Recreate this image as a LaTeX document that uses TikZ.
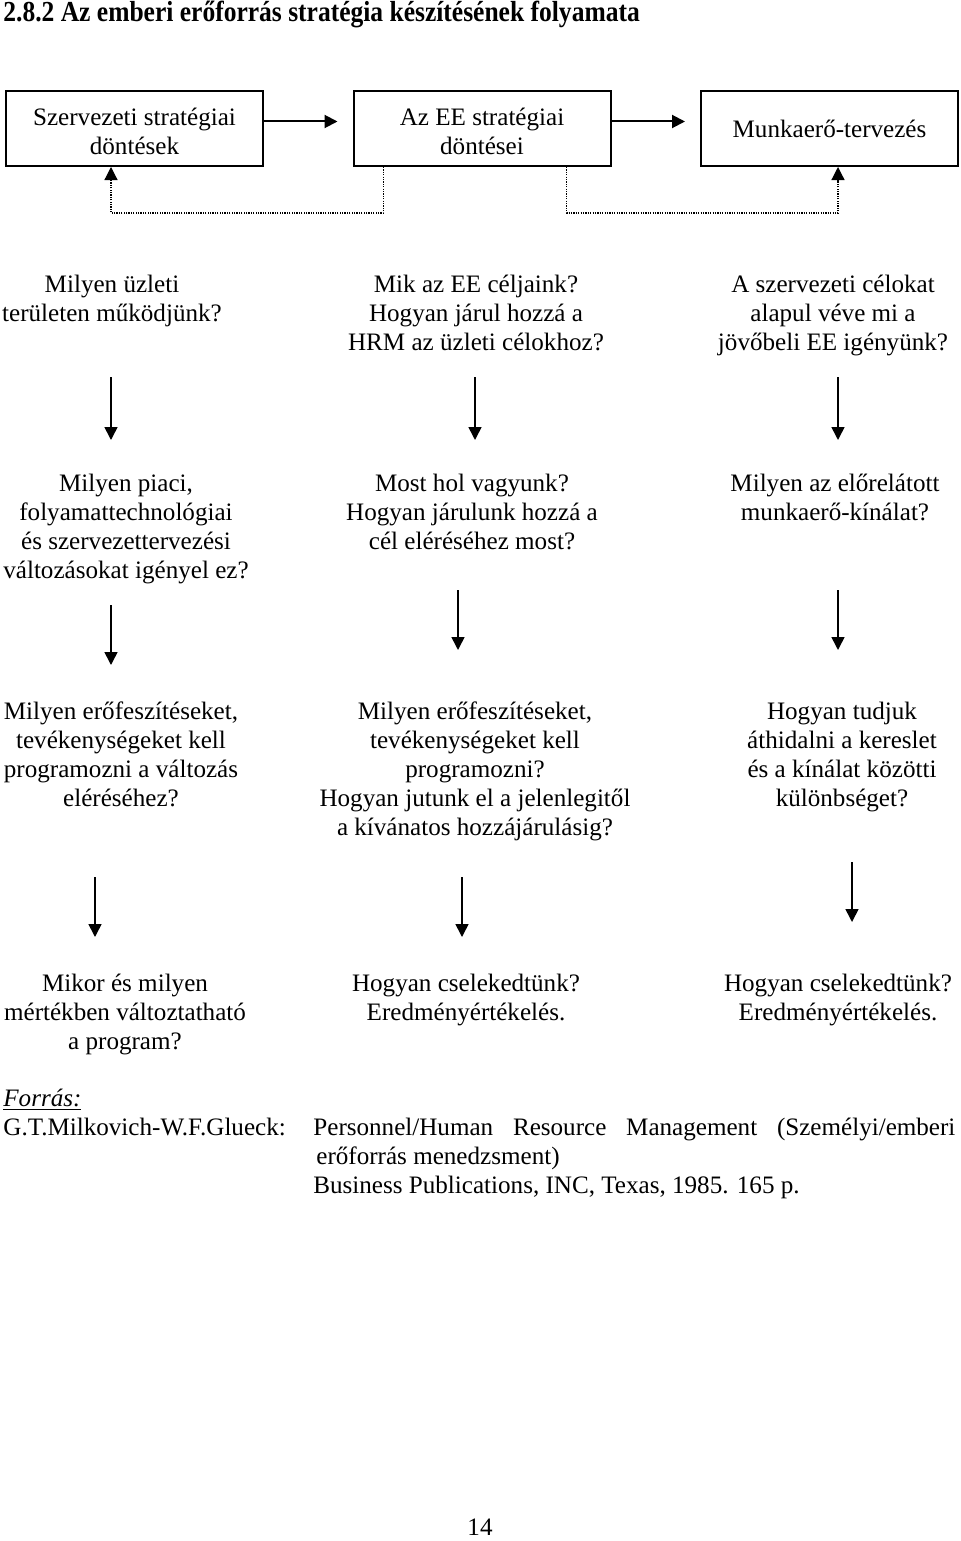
\documentclass[tikz,border=0pt]{standalone}
\usepackage{fontspec}
\setmainfont{Liberation Serif}
\newfontfamily\titlefont[FakeStretch=0.88]{Liberation Serif}
\usetikzlibrary{arrows.meta}

\begin{document}
\begin{tikzpicture}[x=0.5pt, y=-0.5pt, >={Triangle[length=6.5pt, width=6.5pt]}]
  \tikzstyle{txt}=[anchor=north, yshift=10.15pt, align=center, inner sep=0pt,
    font=\fontsize{12.55}{14.5}\selectfont,
    execute at begin node=\strut, execute at end node=\strut]
  \tikzstyle{line}=[anchor=base west, inner sep=0pt, font=\fontsize{12.55}{14.5}\selectfont]
  \tikzstyle{box}=[draw, line width=1pt, minimum width=128.5pt, minimum height=37.5pt,
    align=center, inner sep=0pt, font=\fontsize{12.55}{14.5}\selectfont]
  \tikzstyle{arr}=[->, line width=0.8pt]
  \tikzstyle{dots}=[->, line width=0.6pt, dash pattern=on 0.6pt off 0.6pt]

  \useasboundingbox (0,0) rectangle (960,1541);

  \node[line, font=\fontsize{14.5}{17}\titlefont\bfseries] (title) at (3,22)
    {2.8.2 Az emberi erőforrás stratégia készítésének folyamata};

  % felső sor
  \node[box] (b1) at (134.5,128.5) {\rule{0pt}{12pt}Szervezeti stratégiai\\döntések};
  \node[box] (b2) at (482,128.5) {\rule{0pt}{12pt}Az EE stratégiai\\döntései};
  \node[box] (b3) at (829.5,128.5) {Munkaerő-tervezés};

  \draw[arr, line width=1pt, shorten >=7.5pt] ([yshift=3.5pt]b1.east) -- ([yshift=3.5pt]b2.west);
  \draw[arr, line width=1pt, shorten >=7.5pt] ([yshift=3.5pt]b2.east) -- ([yshift=3.5pt]b3.west);

  % visszacsatolás
  \draw[dots] ([xshift=15.5pt]b2.south west) -- ++(0,46) -| ([xshift=-11.75pt]b1.south);
  \draw[dots] ([xshift=-22.5pt]b2.south east) -- ++(0,46) -| ([xshift=4.25pt]b3.south);

  % kérdések
  \node[txt] (q11) at (112,295) {Milyen üzleti\\területen működjünk?};
  \node[txt] (q12) at (476,295) {Mik az EE céljaink?\\Hogyan járul hozzá a\\HRM az üzleti célokhoz?};
  \node[txt] (q13) at (833,295) {A szervezeti célokat\\alapul véve mi a\\jövőbeli EE igényünk?};

  \node[txt] (q21) at (126,494) {Milyen piaci,\\folyamattechnológiai\\és szervezettervezési\\változásokat igényel ez?};
  \node[txt] (q22) at (472,494) {Most hol vagyunk?\\Hogyan járulunk hozzá a\\cél eléréséhez most?};
  \node[txt] (q23) at (835,494) {Milyen az előrelátott\\munkaerő-kínálat?};

  \node[txt] (q31) at (121,722) {Milyen erőfeszítéseket,\\tevékenységeket kell\\programozni a változás\\eléréséhez?};
  \node[txt] (q32) at (475,722) {Milyen erőfeszítéseket,\\tevékenységeket kell\\programozni?\\Hogyan jutunk el a jelenlegitől\\a kívánatos hozzájárulásig?};
  \node[txt] (q33) at (842,722) {Hogyan tudjuk\\áthidalni a kereslet\\és a kínálat közötti\\különbséget?};

  \node[txt] (q41) at (125,994) {Mikor és milyen\\mértékben változtatható\\a program?};
  \node[txt] (q42) at (466,994) {Hogyan cselekedtünk?\\Eredményértékelés.};
  \node[txt] (q43) at (838,994) {Hogyan cselekedtünk?\\Eredményértékelés.};

  % lefelé mutató nyilak
  \foreach \x/\ya/\yb [count=\i] in {111/377/440, 475/377/440, 838/377/440,
      111/605/665, 458/590/650, 838/590/650,
      95/877/937, 462/877/937, 852/862/922} {
    \coordinate (s\i) at (\x,\ya);
    \coordinate (e\i) at (\x,\yb);
    \draw[arr] (s\i) -- (e\i);
  }

  % forrás
  \node[line] (src) at (3,1106) {\underline{\textit{Forrás:}}};
  \node[line] (auth) at (3,1135) {G.T.Milkovich-W.F.Glueck:};
  \node[txt, anchor=north west, align=justify, text width=321pt] (ref) at (313,1135)
    {Personnel/Human Resource Management (Személyi/emberi\linebreak
     \hspace*{1.5pt}erőforrás menedzsment)\\Business Publications, INC, Texas, 1985. 165 p.};

  \node[line, anchor=base] (page) at (480,1535) {14};
\end{tikzpicture}
\end{document}
